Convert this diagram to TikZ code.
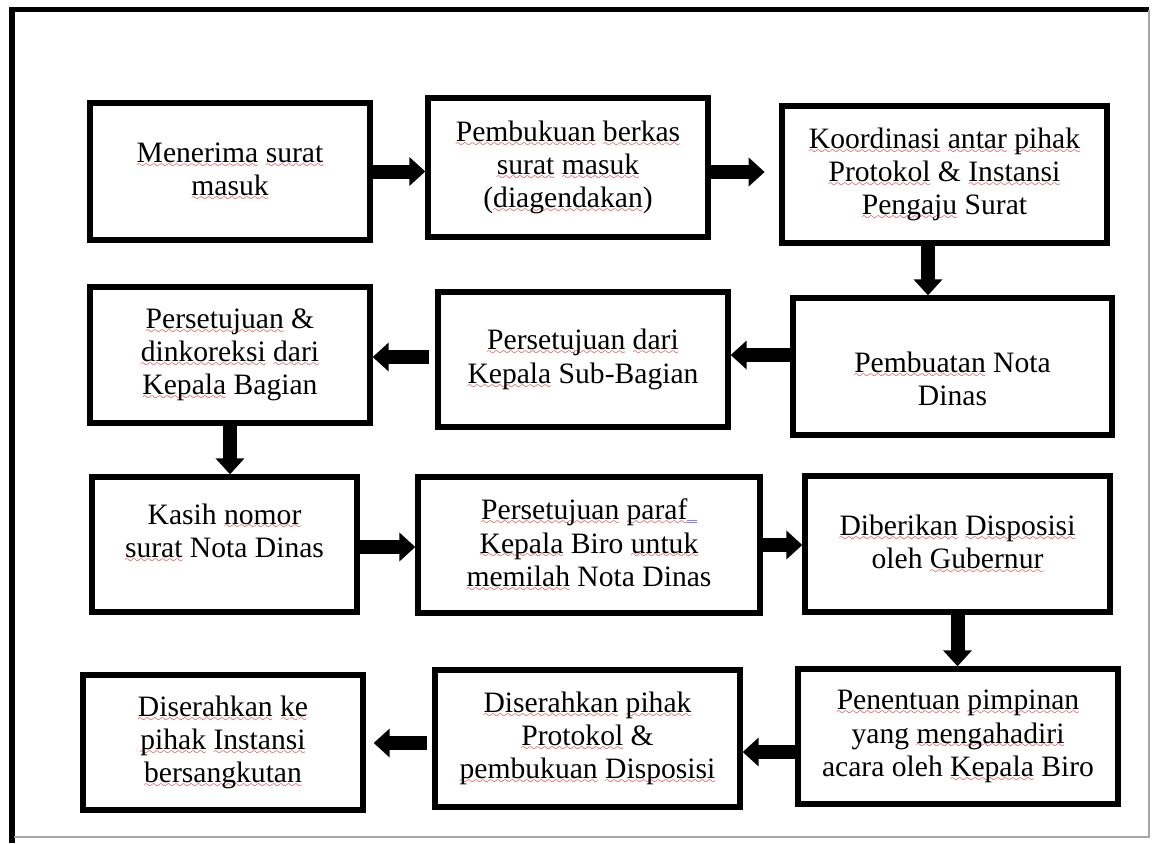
\documentclass[tikz,border=0pt]{standalone}
\usepackage{fontspec}
\setmainfont{Liberation Serif}
\usetikzlibrary{arrows.meta,calc}

% spell-check squiggle under a word
\font\wavefont=lasy7
\newsavebox\spellbox
\newcommand\spellmark[1]{\sbox\spellbox{#1}%
  \rlap{\lower3.6pt\hbox to\wd\spellbox{\color{red!85!black}\xleaders\hbox{\wavefont\char58}\hfil}}%
  \usebox\spellbox}
% grammar mark after a word
\newcommand\grammark{\textcolor{blue!50}{\rlap{\rule[-2.6pt]{7pt}{0.6pt}}\rule[-0.9pt]{7pt}{0.6pt}}}

\tikzset{
  stepbox/.style={draw, line width=4pt, inner sep=0pt, align=center,
    font=\fontsize{22.2}{25}\selectfont},
  flow/.style={line width=10.5pt, -{Triangle[length=12pt,width=21pt]}}
}

\begin{document}
\begin{tikzpicture}[x=0.75pt,y=0.75pt,yscale=-1,xscale=1]
\useasboundingbox (0,0) rectangle (1152,843);

%Frame
\draw [line width=3.8pt] (12,843) -- (12,9.5) -- (1149,9.5) ;
\draw [color=black!35, line width=0.9pt] (1149,9.5) -- (1149,837) -- (14,837) ;

%Row 1
\node [stepbox, minimum width=210pt, minimum height=102.75pt] (menerima) at (230,171.5)
  {\spellmark{Menerima} \spellmark{surat}\\\spellmark{masuk}};
\node [stepbox, minimum width=210pt, minimum height=104.25pt] (pembukuan) at (568,167.5)
  {\spellmark{Pembukuan} \spellmark{berkas}\\\spellmark{surat} \spellmark{masuk}\\(\spellmark{diagendakan})};
\node [stepbox, minimum width=243.75pt, minimum height=102.75pt] (koordinasi) at (944.5,174.5)
  {\spellmark{Koordinasi} \spellmark{antar} \spellmark{pihak}\\\spellmark{Protokol} \& \spellmark{Instansi}\\\spellmark{Pengaju} Surat};

%Row 2
\node [stepbox, minimum width=239.25pt, minimum height=102.75pt] (pembuatan) at (952.5,366.5)
  {\rule{0pt}{15pt}\\[-6pt]\spellmark{Pembuatan} Nota\\Dinas};
\node [stepbox, minimum width=217.5pt, minimum height=101.25pt] (subbagian) at (583,359.5)
  {\spellmark{Persetujuan} \spellmark{dari}\\\spellmark{Kepala} Sub-Bagian};
\node [stepbox, minimum width=210pt, minimum height=102pt] (kabag) at (230,355)
  {\spellmark{Persetujuan} \&\\\spellmark{dinkoreksi} \spellmark{dari}\\\spellmark{Kepala} Bagian};

%Row 3
\node [stepbox, minimum width=198.75pt, minimum height=101.25pt] (kasih) at (224.5,544.5)
  {Kasih \spellmark{nomor}\\\spellmark{surat} Nota Dinas\\[-4pt]\mbox{}};
\node [stepbox, minimum width=256.5pt, minimum height=102pt] (paraf) at (589,545)
  {\spellmark{Persetujuan} \spellmark{paraf}\grammark\\\spellmark{Kepala} Biro \spellmark{untuk}\\\spellmark{memilah} Nota Dinas};
\node [stepbox, minimum width=228.75pt, minimum height=102pt] (gubernur) at (957.5,544)
  {\spellmark{Diberikan} \spellmark{Disposisi}\\oleh \spellmark{Gubernur}};

%Row 4
\node [stepbox, minimum width=240pt, minimum height=101.25pt] (penentuan) at (958,736.5)
  {\spellmark{Penentuan} \spellmark{pimpinan}\\yang \spellmark{mengahadiri}\\acara oleh \spellmark{Kepala} Biro};
\node [stepbox, minimum width=228.75pt, minimum height=102.75pt] (protokol) at (587.5,738.5)
  {\spellmark{Diserahkan} \spellmark{pihak}\\\spellmark{Protokol} \&\\\spellmark{pembukuan} \spellmark{Disposisi}};
\node [stepbox, minimum width=210pt, minimum height=101.25pt] (serahkan) at (223,742.5)
  {\spellmark{Diserahkan} \spellmark{ke}\\\spellmark{pihak} \spellmark{Instansi}\\\spellmark{bersangkutan}};

%Arrows
\coordinate (p1) at ($(pembukuan.east)+(0,4.5)$);
\coordinate (d1) at ($(koordinasi.south)+(-16.5,0)$);
\coordinate (l1) at ($(pembuatan.west)+(0,-11.5)$);
\coordinate (l2) at ($(subbagian.west)+(0,-2.5)$);
\coordinate (r1) at ($(kasih.east)+(0,2.5)$);
\coordinate (l3) at ($(penentuan.west)+(0,15.5)$);
\coordinate (l4) at ($(protokol.west)+(0,4.5)$);

\draw [flow] (menerima.east) -- (menerima.east -| pembukuan.west);
\draw [flow, shorten >=11pt] (p1) -- (p1 -| koordinasi.west);
\draw [flow] (d1) -- (d1 |- pembuatan.north);
\draw [flow] (l1) -- (l1 -| subbagian.east);
\draw [flow, shorten <=5pt] (l2) -- (l2 -| kabag.east);
\draw [flow] (kabag.south) -- (kabag.south |- kasih.north);
\draw [flow] (r1) -- (r1 -| paraf.west);
\draw [flow] (paraf.east) -- (paraf.east -| gubernur.west);
\draw [flow] (gubernur.south) -- (gubernur.south |- penentuan.north);
\draw [flow] (l3) -- (l3 -| protokol.east);
\draw [flow, shorten <=4pt, shorten >=6pt] (l4) -- (l4 -| serahkan.east);

\end{tikzpicture}
\end{document}
